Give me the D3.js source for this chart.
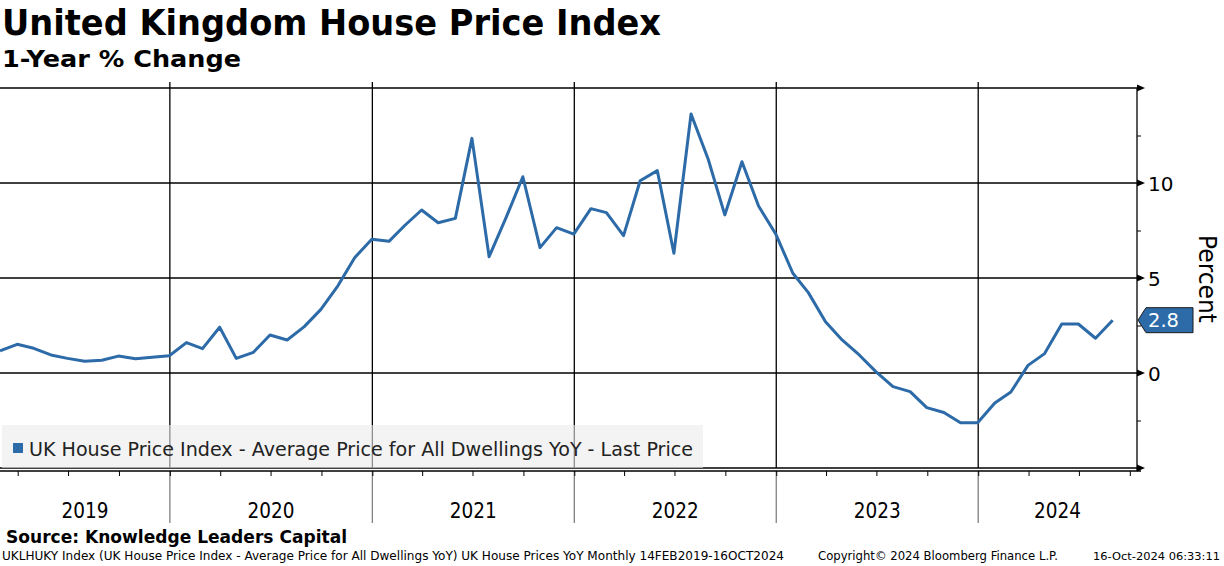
<!DOCTYPE html>
<html>
<head>
<meta charset="utf-8">
<script src="https://cdn.jsdelivr.net/npm/d3@7"></script>
<style>
  body { margin: 0; background: #fff; }
  svg { display: block; font-family: "DejaVu Sans", sans-serif; }
</style>
</head>
<body>
<svg id="chart" width="1224" height="566"></svg>
<script>
// UK HPI, YoY %, monthly from Feb 2019 to Aug 2024
const firstMonth = "2019-02";
const hpiYoY = [
  1.17, 1.51, 1.30, 0.95, 0.77, 0.62, 0.67, 0.89, 0.75, 0.83, 0.91,
  1.60, 1.28, 2.41, 0.77, 1.09, 2.00, 1.74, 2.44, 3.35, 4.60, 6.07, 7.04,
  6.93, 7.75, 8.58, 7.91, 8.14, 12.35, 6.12, 8.20, 10.33, 6.60, 7.65, 7.31,
  8.65, 8.44, 7.23, 10.12, 10.65, 6.30, 13.63, 11.25, 8.32, 11.12, 8.79, 7.32,
  5.25, 4.23, 2.70, 1.74, 0.95, 0.07, -0.72, -0.98, -1.82, -2.08, -2.62, -2.62,
  -1.58, -1.00, 0.40, 1.02, 2.58, 2.58, 1.83, 2.78
];
const lastPrice = "2.8";
const years = [2019, 2020, 2021, 2022, 2023, 2024];
const yGrid = [-5, 0, 5, 10, 15];
const yTickLabels = [0, 5, 10];
const yMinor = [-2.5, 2.5, 7.5, 12.5];

const title = "United Kingdom House Price Index";
const subtitle = "1-Year % Change";
const legendText = "UK House Price Index - Average Price for All Dwellings YoY - Last Price";
const sourceText = "Source: Knowledge Leaders Capital";
const footLeft = "UKLHUKY Index (UK House Price Index - Average Price for All Dwellings YoY) UK House Prices YoY  Monthly 14FEB2019-16OCT2024";
const footMid = "Copyright\u00A9 2024 Bloomberg Finance L.P.";
const footRight = "16-Oct-2024 06:33:11";

const blue = "#2c6aa8";
const plot = { left: 0, right: 1137, top: 88, bottom: 468 };

const svg = d3.select("#chart");

// month-end dates for each point
const start = d3.timeParse("%Y-%m")(firstMonth);
const data = hpiYoY.map((v, i) => ({
  date: d3.timeDay.offset(d3.timeMonth.offset(start, i + 1), -1),
  value: v
}));

const x = d3.scaleTime()
  .domain([new Date(2019, 1, 28), new Date(2024, 9, 14)])
  .range([plot.left, plot.right]);

const y = d3.scaleLinear()
  .domain([-5, 15])
  .range([plot.bottom, plot.top]);

function addText(t, opts) {
  const el = svg.append("text")
    .attr("x", opts.x).attr("y", opts.y)
    .attr("font-size", opts.size)
    .attr("font-weight", opts.bold ? "bold" : "normal")
    .attr("fill", opts.fill || "#000")
    .attr("text-anchor", opts.anchor || "start")
    .text(t);
  if (opts.width) el.attr("textLength", opts.width).attr("lengthAdjust", "spacingAndGlyphs");
  return el;
}

// titles
addText(title, { x: 2, y: 35, size: 35, bold: true, width: 659 });
addText(subtitle, { x: 2, y: 67, size: 23, bold: true, width: 239 });

// horizontal grid
svg.append("g").selectAll("line")
  .data(yGrid)
  .join("line")
  .attr("x1", plot.left).attr("x2", plot.right)
  .attr("y1", d => y(d)).attr("y2", d => y(d))
  .attr("stroke", "#000").attr("stroke-width", 1.3);

// year separators
const yearStarts = years.slice(1).map(yr => new Date(yr, 0, 1));
svg.append("g").selectAll("line")
  .data(yearStarts)
  .join("line")
  .attr("x1", d => x(d)).attr("x2", d => x(d))
  .attr("y1", plot.top - 6).attr("y2", plot.bottom)
  .attr("stroke", "#000").attr("stroke-width", 1.3);
svg.append("g").selectAll("line")
  .data(yearStarts)
  .join("line")
  .attr("x1", d => x(d)).attr("x2", d => x(d))
  .attr("y1", plot.bottom + 3).attr("y2", 523)
  .attr("stroke", "#808080").attr("stroke-width", 1.3);

// x axis with quarterly ticks
const xAxis = d3.axisBottom(x)
  .ticks(d3.timeMonth.every(3))
  .tickSize(5)
  .tickFormat("");
const gx = svg.append("g")
  .attr("transform", `translate(0, ${plot.bottom + 3})`)
  .call(xAxis);
gx.select(".domain").remove();
gx.selectAll("line").attr("stroke", "#000");
svg.append("line")
  .attr("x1", plot.left).attr("x2", plot.right + 4)
  .attr("y1", plot.bottom + 3).attr("y2", plot.bottom + 3)
  .attr("stroke", "#000").attr("stroke-width", 1.3);

// year labels centred on the visible part of each year
svg.append("g").selectAll("text")
  .data(years)
  .join("text")
  .attr("x", yr => {
    const a = Math.max(x(new Date(yr, 0, 1)), plot.left);
    const b = Math.min(x(new Date(yr + 1, 0, 1)), plot.right);
    return (a + b) / 2;
  })
  .attr("y", 518)
  .attr("text-anchor", "middle")
  .attr("font-size", 20.5)
  .attr("textLength", 47)
  .attr("lengthAdjust", "spacingAndGlyphs")
  .text(d => d);

// right axis
svg.append("line")
  .attr("x1", plot.right).attr("x2", plot.right)
  .attr("y1", plot.top).attr("y2", plot.bottom + 3)
  .attr("stroke", "#000").attr("stroke-width", 1.3);

const gMinor = svg.append("g")
  .attr("transform", `translate(${plot.right}, 0)`)
  .call(d3.axisRight(y).tickValues(yMinor).tickSize(4).tickFormat(""));
gMinor.select(".domain").remove();

svg.append("g").selectAll("path")
  .data(yGrid)
  .join("path")
  .attr("d", d => `M${plot.right},${y(d) - 3.5}L${plot.right + 8},${y(d)}L${plot.right},${y(d) + 3.5}Z`)
  .attr("fill", "#000");

const gy = svg.append("g")
  .attr("transform", `translate(${plot.right}, 0)`)
  .call(d3.axisRight(y).tickValues(yTickLabels).tickSize(0).tickPadding(11));
gy.select(".domain").remove();
gy.selectAll("text")
  .attr("font-size", 20)
  .attr("font-family", "DejaVu Sans, sans-serif")
  .attr("fill", "#000")
  .attr("dy", "0.36em");

svg.append("text")
  .attr("transform", `translate(1199, 279) rotate(90)`)
  .attr("text-anchor", "middle")
  .attr("font-size", 24)
  .attr("textLength", 88)
  .attr("lengthAdjust", "spacingAndGlyphs")
  .text("Percent");

// legend
svg.append("rect")
  .attr("x", 2).attr("y", 425)
  .attr("width", 701).attr("height", plot.bottom - 425)
  .attr("fill", "#ebebeb").attr("opacity", 0.6);
svg.append("rect")
  .attr("x", 13).attr("y", 443).attr("width", 10).attr("height", 10)
  .attr("fill", blue);
addText(legendText, { x: 29, y: 456, size: 19.5, width: 664, fill: "#222" });

// series line
const line = d3.line()
  .x(d => x(d.date))
  .y(d => y(d.value));

svg.append("path")
  .datum(data)
  .attr("d", line)
  .attr("fill", "none")
  .attr("stroke", blue)
  .attr("stroke-width", 3)
  .attr("stroke-linejoin", "round");

// last price tag
const ly = y(hpiYoY[hpiYoY.length - 1]);
svg.append("path")
  .attr("d", `M${plot.right + 1},${ly}L${plot.right + 9},${ly - 12.5}L1193,${ly - 12.5}L1193,${ly + 12.5}L${plot.right + 9},${ly + 12.5}Z`)
  .attr("fill", blue)
  .attr("stroke", "#1a1a1a")
  .attr("stroke-width", 1);
addText(lastPrice, { x: 1148, y: ly + 7, size: 20, fill: "#fff", width: 31 });

// source and footer
addText(sourceText, { x: 6, y: 543, size: 17.5, bold: true, width: 341 });
addText(footLeft, { x: 2, y: 560, size: 12, width: 782 });
addText(footMid, { x: 818, y: 560, size: 12, width: 240 });
addText(footRight, { x: 1220, y: 560, size: 11, anchor: "end", width: 127 });
</script>
</body>
</html>
